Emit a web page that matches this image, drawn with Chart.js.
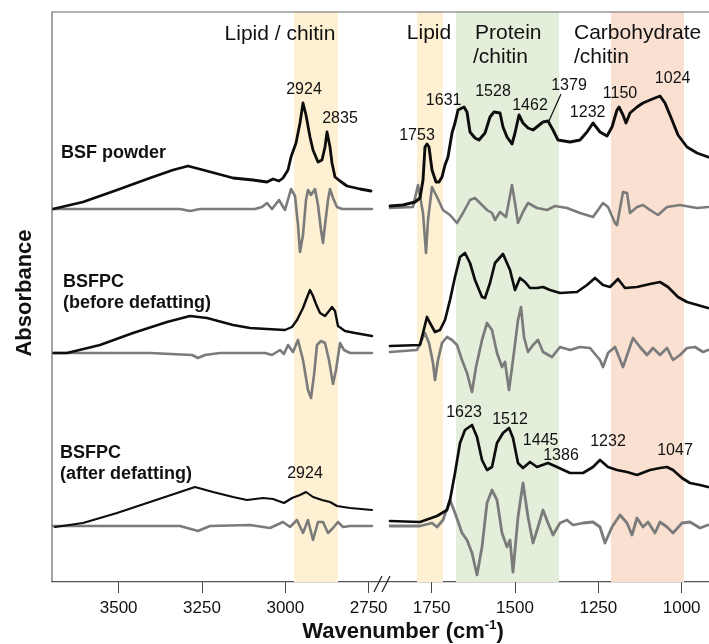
<!DOCTYPE html>
<html>
<head>
<meta charset="utf-8">
<script src="https://cdn.jsdelivr.net/npm/chart.js@4.4.1/dist/chart.umd.min.js"></script>
<style>
  html, body { margin: 0; padding: 0; background: #fff; }
  #wrap { width: 709px; height: 644px; }
</style>
</head>
<body>
<div id="wrap"><canvas id="ftir" width="709" height="644"></canvas></div>
<script>
// FTIR spectra (absorbance + 2nd derivative), broken wavenumber axis
// y values are stacked display units (each trace already offset)

// ---- BSF powder ----
const powderHiWn = [3697,3607,3505,3406,3337,3292,3235,3157,3097,3055,3037,3019,3007,2992,2983,2968,2956,2947,2938,2926,2917,2902,2890,2881,2875,2866,2860,2851,2836,2815,2776,2743];
const powderHiAbs = [373,380,392,404,412,416,411,404,402,400,403,401,404,412,425,439,459,479,467,445,432,420,422,435,450,435,419,405,401,396,393,391];
const powderHiD2Wn = [3697,3316,3286,3256,3091,3070,3055,3040,3019,3001,2983,2971,2962,2956,2947,2938,2932,2923,2911,2902,2893,2887,2881,2872,2866,2857,2845,2830,2740];
const powderHiD2 = [373,373,371,373,373,375,379,373,382,372,393,386,357,330,347,382,392,387,393,377,352,339,357,382,393,384,375,373,373];
const powderLoWn = [1875,1836,1800,1785,1776,1770,1764,1758,1749,1737,1728,1719,1710,1701,1689,1680,1671,1653,1644,1635,1620,1608,1590,1575,1563,1545,1536,1524,1509,1500,1488,1476,1461,1446,1431,1416,1401,1386,1371,1335,1305,1284,1266,1245,1224,1209,1194,1188,1176,1167,1155,1134,1116,1095,1065,1050,1029,1011,984,954,921];
const powderLoAbs = [376,377,380,384,402,435,438,435,412,400,400,405,417,425,449,459,472,475,470,450,444,442,449,465,470,469,455,445,438,449,467,459,454,452,456,460,461,452,442,440,442,450,459,450,446,455,472,475,467,459,469,475,479,482,486,479,462,447,435,429,425];
const powderLoD2Wn = [1875,1806,1791,1776,1767,1761,1749,1734,1716,1695,1674,1656,1635,1620,1605,1584,1569,1560,1545,1527,1509,1500,1491,1476,1461,1434,1404,1380,1344,1305,1266,1236,1221,1200,1194,1176,1164,1155,1134,1116,1095,1071,1044,1005,954,921];
const powderLoD2 = [374,375,397,369,329,362,395,385,372,367,359,369,382,384,379,372,369,362,370,365,397,379,359,370,379,374,372,376,374,369,365,379,375,359,357,390,389,369,375,377,372,367,375,377,374,375];

// ---- BSFPC before defatting ----
const beforeHiWn = [3697,3655,3556,3457,3355,3286,3235,3157,3106,3055,3001,2980,2965,2947,2938,2926,2917,2908,2896,2881,2869,2860,2851,2842,2821,2791,2740];
const beforeHiAbs = [229,229,237,249,260,266,264,257,254,253,252,255,262,274,282,292,286,278,269,266,271,275,271,256,251,249,246];
const beforeHiD2Wn = [3697,3406,3280,3262,3241,3196,3061,3040,3016,3004,2992,2977,2962,2947,2932,2923,2914,2905,2893,2881,2869,2857,2848,2836,2824,2806,2740];
const beforeHiD2 = [229,229,227,224,227,229,229,227,232,228,237,230,242,222,192,184,207,237,241,239,222,198,212,239,232,229,229];
const beforeLoWn = [1875,1785,1776,1764,1755,1740,1725,1710,1695,1680,1665,1650,1635,1620,1599,1590,1575,1560,1536,1515,1500,1485,1470,1455,1434,1416,1395,1365,1314,1284,1260,1236,1215,1191,1170,1134,1095,1065,1041,1011,984,921];
const beforeLoAbs = [236,237,249,265,259,250,252,262,282,305,325,329,319,302,285,284,299,319,328,312,292,304,300,294,294,295,292,289,290,297,304,297,295,303,294,295,298,300,295,285,280,274];
const beforeLoD2Wn = [1875,1794,1770,1758,1746,1740,1731,1719,1704,1689,1674,1659,1644,1629,1617,1599,1584,1569,1554,1539,1530,1518,1506,1491,1482,1473,1461,1446,1431,1416,1389,1365,1335,1305,1275,1245,1236,1221,1200,1176,1146,1125,1104,1086,1065,1044,1026,1005,984,960,936,921];
const beforeLoD2 = [230,232,249,239,219,202,222,239,245,242,237,222,209,190,215,242,259,252,229,215,220,192,222,262,275,245,230,237,242,230,225,235,232,235,234,222,215,229,235,215,244,235,227,234,227,234,222,227,234,235,230,232];

// ---- BSFPC after defatting ----
const afterHiWn = [3691,3607,3505,3406,3325,3271,3217,3157,3115,3067,3037,3004,2980,2956,2938,2917,2890,2866,2845,2806,2740];
const afterHiAbs = [55,59,69,80,89,95,90,85,82,84,83,79,84,87,90,85,82,80,76,74,72];
const afterHiD2Wn = [3697,3316,3262,3226,3106,3046,3007,2986,2965,2947,2932,2917,2902,2887,2872,2857,2842,2827,2806,2740];
const afterHiD2 = [56,56,51,56,57,54,60,55,62,49,62,42,60,60,49,54,60,55,56,56];
const afterLoWn = [1875,1785,1734,1704,1695,1680,1665,1650,1629,1614,1599,1584,1569,1554,1536,1518,1506,1491,1476,1455,1434,1401,1374,1335,1296,1266,1245,1221,1194,1164,1134,1095,1065,1044,1026,999,975,945,921];
const afterLoAbs = [61,60,66,72,82,109,139,152,157,145,122,112,115,139,149,154,144,119,114,120,115,119,115,109,109,115,122,115,112,110,107,112,114,115,112,104,99,97,95];
const afterLoD2Wn = [1875,1785,1749,1734,1716,1695,1680,1659,1644,1629,1614,1599,1584,1569,1554,1539,1524,1515,1506,1491,1476,1461,1446,1431,1416,1401,1386,1365,1344,1326,1296,1266,1245,1230,1209,1185,1164,1149,1134,1116,1101,1080,1065,1044,1026,999,975,945,921];
const afterLoD2 = [56,56,59,55,62,82,69,49,42,29,7,35,79,92,82,49,35,42,10,65,99,65,39,55,72,59,47,59,62,57,59,60,55,39,55,67,59,47,64,55,60,49,60,55,49,59,60,54,57];

// axis ticks and shaded regions (wavenumber, cm-1)
const tickWn = [3500, 3250, 3000, 2750, 1750, 1500, 1250, 1000];
const bandWn = [[2974, 2842], [1794, 1716], [1677, 1368], [1212, 993]];
const bandColors = ['#fdf0d3', '#fdf0d3', '#e3efda', '#f9e0d1'];

// broken axis: 3700-2740 on the left, 1880-918 on the right
const HI_START = 3700, LO_OFFSET = 2889, BREAK_U = 987;
const toU = wn => wn > 2300 ? HI_START - wn : LO_OFFSET - wn;
const fromU = u => u < BREAK_U ? HI_START - u : LO_OFFSET - u;

const FONT = 'Arial, "Liberation Sans", sans-serif';
const BLACK = '#0d0d0d';
const GRAY = '#7b7b7b';

function trace(wn, vals, color, width) {
  return {
    data: wn.map((w, i) => ({ x: toU(w), y: vals[i] })),
    borderColor: color,
    borderWidth: width,
    pointRadius: 0,
    tension: 0,
    fill: false,
    borderJoinStyle: 'round',
    borderCapStyle: 'round',
  };
}

// black traces first so they sit on top of the gray ones
const datasets = [
  trace(powderHiWn, powderHiAbs, BLACK, 2.8),
  trace(powderLoWn, powderLoAbs, BLACK, 2.9),
  trace(beforeHiWn, beforeHiAbs, BLACK, 2.4),
  trace(beforeLoWn, beforeLoAbs, BLACK, 2.7),
  trace(afterHiWn, afterHiAbs, BLACK, 2.1),
  trace(afterLoWn, afterLoAbs, BLACK, 2.7),
  trace(powderHiD2Wn, powderHiD2, GRAY, 2.6),
  trace(powderLoD2Wn, powderLoD2, GRAY, 2.6),
  trace(beforeHiD2Wn, beforeHiD2, GRAY, 2.6),
  trace(beforeLoD2Wn, beforeLoD2, GRAY, 2.7),
  trace(afterHiD2Wn, afterHiD2, GRAY, 2.6),
  trace(afterLoD2Wn, afterLoD2, GRAY, 2.8),
];

const bandsPlugin = {
  id: 'bands',
  beforeDatasetsDraw(chart) {
    const { ctx, chartArea, scales: { x } } = chart;
    ctx.save();
    bandWn.forEach(([a, b], i) => {
      const x1 = x.getPixelForValue(toU(a));
      const x2 = x.getPixelForValue(toU(b));
      ctx.fillStyle = bandColors[i];
      ctx.fillRect(x1, chartArea.top, x2 - x1, chartArea.bottom - chartArea.top);
    });
    ctx.restore();
  }
};

const textPlugin = {
  id: 'texts',
  afterDraw(chart) {
    const { ctx, chartArea, scales: { x, y } } = chart;
    const px = wn => x.getPixelForValue(toU(wn));
    const py = v => y.getPixelForValue(v);
    ctx.save();

    // frame: left and top border
    ctx.strokeStyle = '#666';
    ctx.lineWidth = 1.2;
    ctx.beginPath();
    ctx.moveTo(chartArea.left, chartArea.bottom);
    ctx.lineTo(chartArea.left, chartArea.top);
    ctx.lineTo(chartArea.right, chartArea.top);
    ctx.stroke();

    // axis break marks
    const bx = x.getPixelForValue(BREAK_U);
    ctx.strokeStyle = '#222';
    ctx.lineWidth = 1.3;
    [-3, 5].forEach(d => {
      ctx.beginPath();
      ctx.moveTo(bx + d - 4, chartArea.bottom + 10);
      ctx.lineTo(bx + d + 4, chartArea.bottom - 6);
      ctx.stroke();
    });

    ctx.fillStyle = '#111';

    // region titles
    ctx.font = '21px ' + FONT;
    ctx.textBaseline = 'alphabetic';
    ctx.textAlign = 'center';
    ctx.fillText('Lipid / chitin', px(3016), py(542));
    ctx.fillText('Lipid', px(1758), py(543));
    ctx.textAlign = 'left';
    ctx.fillText('Protein', px(1620), py(543));
    ctx.fillText('/chitin', px(1626), py(519));
    ctx.fillText('Carbohydrate', px(1323), py(543));
    ctx.fillText('/chitin', px(1323), py(519));

    // sample names
    ctx.font = 'bold 18px ' + FONT;
    ctx.fillText('BSF powder', px(3673), py(424));
    ctx.fillText('BSFPC', px(3667), py(295));
    ctx.fillText('(before defatting)', px(3667), py(274));
    ctx.fillText('BSFPC', px(3676), py(124));
    ctx.fillText('(after defatting)', px(3676), py(103));

    // peak labels
    const peaks = [
      ['2924', 2944, 492], ['2835', 2836, 463], ['1753', 1794, 446], ['1631', 1714, 481],
      ['1528', 1566, 490], ['1462', 1455, 476], ['1379', 1338, 496], ['1232', 1282, 469],
      ['1150', 1185, 488], ['1024', 1027, 503],
      ['2924', 2941, 108], ['1623', 1653, 169], ['1512', 1515, 162], ['1445', 1423, 141],
      ['1386', 1362, 126], ['1232', 1221, 140], ['1047', 1020, 131],
    ];
    ctx.font = '16px ' + FONT;
    ctx.textAlign = 'center';
    ctx.textBaseline = 'middle';
    peaks.forEach(([t, wn, v]) => ctx.fillText(t, px(wn), py(v)));

    // leader line for 1379
    ctx.strokeStyle = '#111';
    ctx.lineWidth = 1.2;
    ctx.beginPath();
    ctx.moveTo(px(1362), py(488));
    ctx.lineTo(px(1401), py(459));
    ctx.stroke();

    // y title
    ctx.save();
    ctx.translate(chartArea.left - 27, (chartArea.top + chartArea.bottom) / 2 - 4);
    ctx.rotate(-Math.PI / 2);
    ctx.font = 'bold 22px ' + FONT;
    ctx.textAlign = 'center';
    ctx.fillText('Absorbance', 0, 0);
    ctx.restore();

    // x title with superscript
    const main = 'Wavenumber (cm';
    ctx.font = 'bold 22px ' + FONT;
    const w1 = ctx.measureText(main).width;
    const w3 = ctx.measureText(')').width;
    ctx.font = 'bold 13px ' + FONT;
    const w2 = ctx.measureText('-1').width;
    let sx = 403 - (w1 + w2 + w3) / 2;
    const base = chart.height - 6;
    ctx.textAlign = 'left';
    ctx.textBaseline = 'alphabetic';
    ctx.font = 'bold 22px ' + FONT;
    ctx.fillText(main, sx, base);
    ctx.font = 'bold 13px ' + FONT;
    ctx.fillText('-1', sx + w1, base - 9);
    ctx.font = 'bold 22px ' + FONT;
    ctx.fillText(')', sx + w1 + w2, base);

    ctx.restore();
  }
};

new Chart(document.getElementById('ftir'), {
  type: 'line',
  data: { datasets },
  options: {
    responsive: false,
    devicePixelRatio: 1,
    animation: false,
    layout: { padding: { left: 52, top: 12, right: 0, bottom: 0 } },
    plugins: { legend: { display: false }, tooltip: { enabled: false } },
    scales: {
      x: {
        type: 'linear',
        min: 0,
        max: 1971,
        afterBuildTicks: s => { s.ticks = tickWn.map(w => ({ value: toU(w) })); },
        afterFit: s => { s.height = 62; },
        ticks: {
          autoSkip: false,
          maxRotation: 0,
          padding: 5,
          color: '#111',
          font: { size: 17, family: FONT },
          callback: v => String(fromU(v)),
        },
        grid: { drawOnChartArea: false, drawTicks: true, tickLength: 11, color: '#444' },
        border: { display: true, color: '#555', width: 1.2 },
      },
      y: { display: false, min: 0, max: 570 },
    },
  },
  plugins: [bandsPlugin, textPlugin],
});
</script>
</body>
</html>
